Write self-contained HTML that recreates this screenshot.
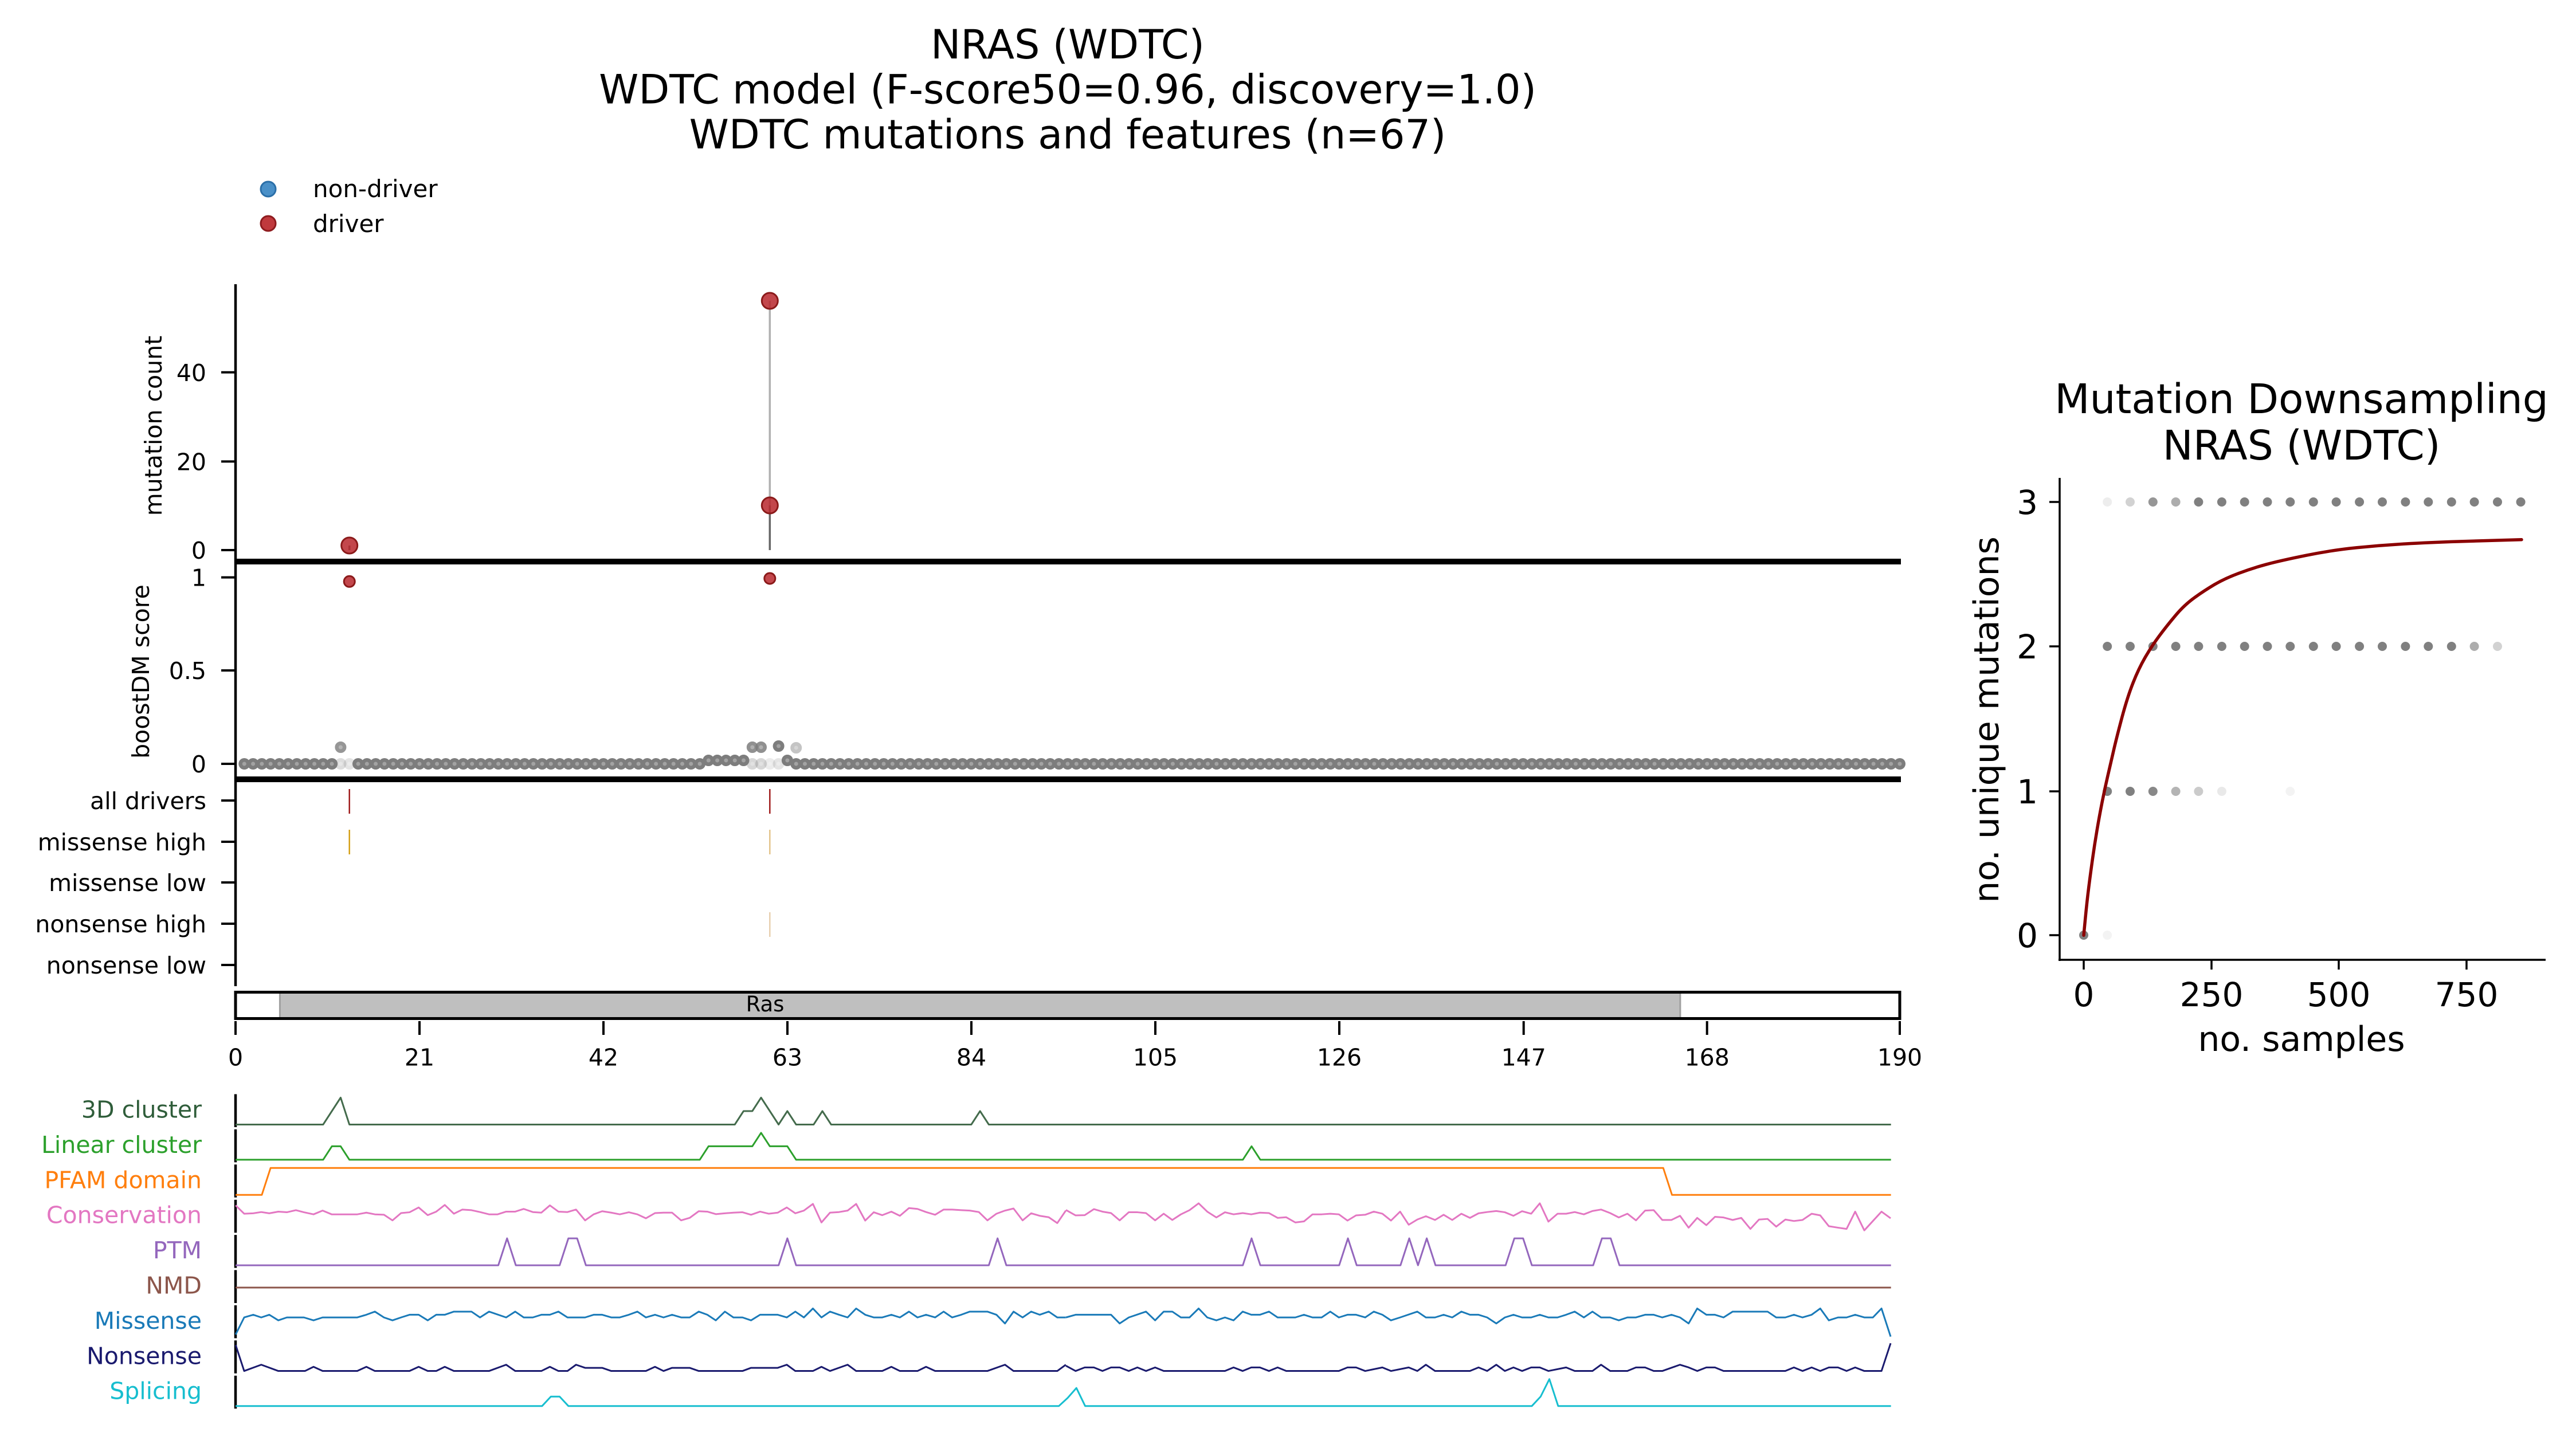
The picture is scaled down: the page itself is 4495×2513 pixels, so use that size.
<!DOCTYPE html>
<html><head><meta charset="utf-8"><style>
html,body{margin:0;padding:0;background:#fff;}
svg{display:block;}
text{font-family:"DejaVu Sans","Liberation Sans",sans-serif;fill:#000;}
</style></head><body>
<svg xmlns="http://www.w3.org/2000/svg" width="4495" height="2513" viewBox="0 0 4495 2513">
<rect width="4495" height="2513" fill="#fff"/>

<!-- Main title -->
<text x="1863" y="102" font-size="70" text-anchor="middle">NRAS (WDTC)</text>
<text x="1863" y="180.5" font-size="70" text-anchor="middle">WDTC model (F-score50=0.96, discovery=1.0)</text>
<text x="1863" y="259" font-size="70" text-anchor="middle">WDTC mutations and features (n=67)</text>

<!-- Legend -->
<circle cx="468" cy="330" r="13" fill="#4a90c8" stroke="#2b6fa8" stroke-width="3"/>
<text x="546" y="344" font-size="42">non-driver</text>
<circle cx="468" cy="390" r="13" fill="#c0393d" stroke="#8e1b1e" stroke-width="3"/>
<text x="546" y="405" font-size="42">driver</text>

<!-- Y labels -->
<text transform="translate(282,743) rotate(-90)" font-size="41" text-anchor="middle">mutation count</text>
<text transform="translate(260,1172) rotate(-90)" font-size="41" text-anchor="middle">boostDM score</text>

<!-- Spines -->
<line x1="411" y1="496" x2="411" y2="1721" stroke="#000" stroke-width="4.5"/>
<rect x="409" y="975" width="2908" height="10" fill="#000"/>
<rect x="409" y="1355" width="2908" height="10" fill="#000"/>

<!-- Ticks -->
<path d="M386 649.8H411M386 805.4H411M386 960H411M386 1007.6H411M386 1170H411M386 1333H411M386 1397H411M386 1469H411M386 1540H411M386 1612H411M386 1684H411" stroke="#000" stroke-width="4"/>
<path d="M411 1782V1806M732 1782V1806M1053 1782V1806M1374 1782V1806M1695 1782V1806M2016 1782V1806M2337 1782V1806M2658.7 1782V1806M2978.7 1782V1806M3315 1782V1806" stroke="#000" stroke-width="4"/>

<!-- Y tick labels -->
<g font-size="41" text-anchor="end">
<text x="360" y="665">40</text>
<text x="360" y="820.5">20</text>
<text x="360" y="975">0</text>
<text x="360" y="1022.6">1</text>
<text x="360" y="1185">0.5</text>
<text x="360" y="1348">0</text>
<text x="360" y="1412">all drivers</text>
<text x="360" y="1484">missense high</text>
<text x="360" y="1555">missense low</text>
<text x="360" y="1627">nonsense high</text>
<text x="360" y="1699">nonsense low</text>
</g>

<!-- X tick labels -->
<g font-size="41" text-anchor="middle">
<text x="411" y="1859.5">0</text>
<text x="732" y="1859.5">21</text>
<text x="1053" y="1859.5">42</text>
<text x="1374" y="1859.5">63</text>
<text x="1695" y="1859.5">84</text>
<text x="2016" y="1859.5">105</text>
<text x="2337" y="1859.5">126</text>
<text x="2658.7" y="1859.5">147</text>
<text x="2978.7" y="1859.5">168</text>
<text x="3315" y="1859.5">190</text>
</g>

<!-- Mutation count plot -->
<line x1="1343.3" y1="525" x2="1343.3" y2="882" stroke="#b0b0b0" stroke-width="3.5"/>
<line x1="1343.3" y1="882" x2="1343.3" y2="960" stroke="#666" stroke-width="3.5"/>
<line x1="609.7" y1="952" x2="609.7" y2="960" stroke="#666" stroke-width="3.5"/>
<circle cx="609.7" cy="952" r="14" fill="#b8272d" fill-opacity="0.85" stroke="#8b1a1a" stroke-width="3"/>
<circle cx="1343.3" cy="882" r="14" fill="#b8272d" fill-opacity="0.85" stroke="#8b1a1a" stroke-width="3"/>
<circle cx="1343.3" cy="525" r="14" fill="#b8272d" fill-opacity="0.85" stroke="#8b1a1a" stroke-width="3"/>

<!-- boostDM dots -->
<g fill="none" stroke-linecap="round">
<path d="M426.3 1333H580M625 1333H1222M1389.2 1333H3316" stroke="#7d7d7d" stroke-width="20" stroke-dasharray="0.01 15.274"/>
<path d="M426.3 1333H580M625 1333H1222M1389.2 1333H3316" stroke="#a3a3a3" stroke-width="7" stroke-dasharray="0.01 15.274"/>
</g>
<g fill="#a3a3a3" stroke="#7d7d7d" stroke-width="6.5">
<circle cx="594.4" cy="1333" r="6.75" opacity="0.25"/>
<circle cx="609.7" cy="1333" r="6.75" opacity="0.2"/>
<circle cx="594.4" cy="1304" r="6.75" opacity="0.8"/>
<circle cx="1236.3" cy="1327" r="6.75"/>
<circle cx="1251.6" cy="1327" r="6.75"/>
<circle cx="1266.9" cy="1327" r="6.75"/>
<circle cx="1282.2" cy="1327" r="6.75"/>
<circle cx="1297.5" cy="1327" r="6.75"/>
<circle cx="1312.8" cy="1333" r="6.75" opacity="0.3"/>
<circle cx="1328" cy="1333" r="6.75" opacity="0.3"/>
<circle cx="1343.3" cy="1333" r="6.75" opacity="0.15"/>
<circle cx="1358.6" cy="1333" r="6.75" opacity="0.2"/>
<circle cx="1312.8" cy="1304" r="6.75" opacity="0.85"/>
<circle cx="1328" cy="1304" r="6.75" opacity="0.85"/>
<circle cx="1358.6" cy="1302" r="6.75"/>
<circle cx="1373.9" cy="1327" r="6.75"/>
<circle cx="1389.2" cy="1305" r="6.75" opacity="0.45"/>
</g>
<circle cx="609.7" cy="1014.8" r="9.5" fill="#b8272d" fill-opacity="0.85" stroke="#8b1a1a" stroke-width="3"/>
<circle cx="1343.3" cy="1009.5" r="9.5" fill="#b8272d" fill-opacity="0.85" stroke="#8b1a1a" stroke-width="3"/>

<!-- Track marks -->
<line x1="609.7" y1="1377" x2="609.7" y2="1420" stroke="#a01c1c" stroke-width="2.5"/>
<line x1="1343.3" y1="1377" x2="1343.3" y2="1420" stroke="#a01c1c" stroke-width="2.5"/>
<line x1="609.7" y1="1448" x2="609.7" y2="1491" stroke="#d4a017" stroke-width="2.5"/>
<line x1="1343.3" y1="1448" x2="1343.3" y2="1491" stroke="#e3c48a" stroke-width="2.5"/>
<line x1="1343.3" y1="1592" x2="1343.3" y2="1635" stroke="#e8cfae" stroke-width="2.5"/>

<!-- Ras domain box -->
<rect x="487.4" y="1731.5" width="2445.5" height="46" fill="#bfbfbf"/>
<line x1="488.4" y1="1731.5" x2="488.4" y2="1777.5" stroke="#a0a0a0" stroke-width="3"/>
<line x1="2931.9" y1="1731.5" x2="2931.9" y2="1777.5" stroke="#a0a0a0" stroke-width="3"/>
<rect x="411" y="1731.5" width="2904" height="46" fill="none" stroke="#000" stroke-width="5"/>
<text x="1335" y="1765" font-size="37" text-anchor="middle">Ras</text>

<!-- Feature row spines -->
<path d="M411 1909.5V1967M411 1970.9V2028.4M411 2032.3V2089.8M411 2093.7V2151.2M411 2155.1V2212.6M411 2216.5V2274M411 2277.9V2335.4M411 2339.3V2396.8M411 2400.7V2458.2" stroke="#000" stroke-width="4.5"/>

<!-- Feature labels -->
<g font-size="41" text-anchor="end">
<text x="352" y="1950.5" style="fill:#2f5d3a">3D cluster</text>
<text x="352" y="2011.9" style="fill:#2ca02c">Linear cluster</text>
<text x="352" y="2073.3" style="fill:#ff7f0e">PFAM domain</text>
<text x="352" y="2134.7" style="fill:#e377c2">Conservation</text>
<text x="352" y="2196.1" style="fill:#9467bd">PTM</text>
<text x="352" y="2257.5" style="fill:#8c564b">NMD</text>
<text x="352" y="2318.9" style="fill:#1a7ab8">Missense</text>
<text x="352" y="2380.3" style="fill:#1a1a6e">Nonsense</text>
<text x="352" y="2441.7" style="fill:#17becf">Splicing</text>
</g>

<!-- Feature step series (index space) -->
<g fill="none" stroke-linejoin="round" stroke-width="3">
<g transform="translate(411,1962.5) scale(15.284,-47)">
<polyline vector-effect="non-scaling-stroke" stroke="#446b4c" stroke-width="3" points="0,0 10,0 12,1 13,0 57,0 58,0.5 59,0.5 60,1 62,0 63,0.5 64,0 66,0 67,0.5 68,0 84,0 85,0.5 86,0 189,0"/>
</g>
<g transform="translate(411,2023.9) scale(15.284,-47)">
<polyline vector-effect="non-scaling-stroke" stroke="#2ca02c" stroke-width="3" points="0,0 10,0 11,0.5 12,0.5 13,0 53,0 54,0.5 59,0.5 60,1 61,0.5 63,0.5 64,0 115,0 116,0.5 117,0 189,0"/>
</g>
<g transform="translate(411,2085.3) scale(15.284,-47)">
<polyline vector-effect="non-scaling-stroke" stroke="#ff7f0e" stroke-width="3" points="0,0 3,0 4,1 163,1 164,0 189,0"/>
</g>
<g transform="translate(411,2208.1) scale(15.284,-47)">
<polyline vector-effect="non-scaling-stroke" stroke="#9467bd" stroke-width="3" points="0,0 30,0 31,1 32,0 37,0 38,1 39,1 40,0 62,0 63,1 64,0 86,0 87,1 88,0 115,0 116,1 117,0 126,0 127,1 128,0 133,0 134,1 135,0 136,1 137,0 145,0 146,1 147,1 148,0 155,0 156,1 157,1 158,0 189,0"/>
</g>
<g transform="translate(411,2453.7) scale(15.284,-47)">
<polyline vector-effect="non-scaling-stroke" stroke="#17becf" stroke-width="3" points="0,0 35,0 36,0.35 37,0.35 38,0 94,0 95,0.3 96,0.67 97,0 148,0 149,0.35 150,1 151,0 189,0"/>
</g>
<line x1="411" y1="2247" x2="3299.7" y2="2247" stroke="#8c564b" stroke-width="3"/>
</g>

<!-- Noisy series left half -->
<g transform="translate(400,1900) scale(0.931,0.3635)" fill="none" stroke-linejoin="round">
<polyline vector-effect="non-scaling-stroke" stroke="#e377c2" stroke-width="3" points="12,560 28,600 45,598 60,592 75,598 92,590 108,593 125,583 140,593 158,603 175,585 192,603 208,603 225,603 240,603 257,595 273,603 290,605 306,632 322,597 338,593 355,570 372,607 388,590 404,558 421,600 437,580 454,583 470,592 487,603 503,603 519,590 536,590 552,577 569,592 585,595 601,560 617,590 634,592 650,580 667,632 683,603 699,588 716,595 732,603 749,593 765,603 781,622 798,597 814,595 830,595 847,632 863,620 880,588 896,590 912,602 929,598 945,595 962,593 978,605 995,590 1011,600 1028,595 1045,570 1061,598 1077,585 1094,553 1110,642 1126,595 1143,592 1159,585 1175,553 1192,633 1208,593 1224,607 1241,590 1257,610 1274,573 1290,577 1306,592 1323,605 1339,580 1355,580 1372,583 1388,585 1405,592 1421,632 1438,600 1454,585 1470,575 1487,632 1503,598 1519,610 1536,617 1552,645 1568,585"/>
<polyline vector-effect="non-scaling-stroke" stroke="#1a7ab8" stroke-width="3" points="12,1180 28,1098 45,1085 60,1098 75,1085 92,1112 108,1098 125,1098 140,1098 158,1112 175,1098 240,1098 257,1085 273,1070 290,1098 306,1112 322,1098 338,1085 355,1085 372,1112 388,1085 404,1085 421,1070 454,1070 470,1098 487,1070 519,1098 536,1070 552,1098 569,1098 585,1085 601,1085 617,1070 634,1098 667,1098 683,1085 699,1085 716,1098 732,1098 749,1085 765,1070 781,1098 798,1085 814,1098 830,1085 847,1098 863,1098 880,1070 896,1085 912,1112 929,1070 945,1098 962,1098 978,1112 995,1085 1028,1085 1045,1098 1061,1070 1077,1098 1094,1055 1110,1098 1126,1070 1143,1085 1159,1098 1175,1055 1192,1085 1208,1098 1224,1098 1241,1085 1257,1098 1274,1070 1290,1098 1306,1085 1323,1098 1339,1070 1355,1098 1372,1085 1388,1070 1421,1070 1438,1085 1454,1127 1470,1070 1487,1098 1503,1070 1519,1085 1536,1070 1552,1098 1568,1098"/>
<polyline vector-effect="non-scaling-stroke" stroke="#1a1a6e" stroke-width="3" points="12,1230 28,1355 60,1325 92,1355 142,1355 158,1335 175,1355 240,1355 257,1335 273,1355 338,1355 355,1335 372,1355 388,1355 404,1335 421,1355 487,1355 519,1325 536,1355 585,1355 601,1335 617,1355 634,1355 650,1325 667,1340 699,1340 716,1355 781,1355 798,1335 814,1355 830,1340 863,1340 880,1355 962,1355 978,1340 1028,1340 1045,1325 1061,1355 1094,1355 1110,1335 1126,1355 1159,1325 1175,1355 1224,1355 1241,1335 1257,1355 1290,1355 1306,1335 1323,1355 1421,1355 1454,1325 1470,1355 1552,1355 1568,1325"/>
</g>

<!-- Noisy series right half -->
<g transform="translate(1860,1900) scale(0.9375,0.3635)" fill="none" stroke-linejoin="round">
<polyline vector-effect="non-scaling-stroke" stroke="#e377c2" stroke-width="3" points="0,582 18,608 35,607 52,578 68,590 84,597 100,632 117,593 133,593 149,597 166,632 182,600 198,630 214,603 230,583 247,550 263,590 280,618 296,593 312,603 329,597 345,603 361,595 378,597 394,620 410,617 427,642 443,637 459,603 476,603 492,600 508,603 524,633 540,608 557,605 573,590 589,600 605,633 622,590 638,653 654,628 670,612 687,630 703,605 719,630 736,600 752,620 768,598 784,592 801,587 817,593 833,610 849,588 866,600 882,550 898,638 915,600 931,600 947,592 964,603 980,587 996,580 1013,597 1029,618 1045,600 1061,632 1078,585 1094,583 1110,630 1127,630 1143,610 1159,667 1175,620 1192,655 1208,615 1224,618 1241,630 1257,620 1274,673 1290,628 1306,625 1322,662 1339,628 1355,635 1371,630 1388,600 1404,608 1420,660 1437,667 1453,673 1469,590 1486,680 1502,635 1518,590 1535,622"/>
<polyline vector-effect="non-scaling-stroke" stroke="#1a7ab8" stroke-width="3" points="0,1098 18,1085 84,1085 100,1127 117,1098 149,1070 166,1112 182,1070 198,1070 214,1098 230,1098 247,1055 263,1098 280,1112 296,1098 312,1112 329,1070 345,1085 361,1085 378,1070 394,1098 427,1098 443,1085 459,1098 476,1098 492,1070 508,1098 524,1085 540,1085 557,1098 573,1070 589,1085 605,1112 622,1098 654,1070 670,1098 687,1098 703,1085 719,1098 736,1070 752,1085 768,1085 784,1098 801,1127 817,1098 833,1085 849,1098 866,1098 882,1085 898,1098 915,1098 931,1085 947,1070 964,1098 980,1070 996,1098 1013,1098 1029,1112 1045,1098 1061,1098 1078,1085 1094,1085 1110,1098 1127,1085 1143,1098 1159,1127 1175,1055 1192,1085 1208,1085 1224,1098 1241,1070 1306,1070 1322,1098 1339,1098 1355,1085 1371,1098 1388,1085 1404,1055 1420,1112 1437,1098 1453,1098 1469,1085 1486,1098 1502,1098 1518,1055 1535,1190"/>
<polyline vector-effect="non-scaling-stroke" stroke="#1a1a6e" stroke-width="3" points="0,1330 18,1355 35,1338 52,1338 68,1355 84,1338 100,1338 117,1355 133,1338 149,1355 166,1338 182,1355 296,1355 312,1338 329,1355 345,1338 361,1338 378,1355 394,1338 410,1355 508,1355 524,1338 540,1338 557,1355 589,1338 605,1355 638,1338 654,1355 670,1325 687,1355 752,1355 768,1338 784,1355 801,1325 817,1355 833,1338 849,1355 866,1338 882,1338 898,1355 931,1338 947,1355 980,1355 996,1325 1013,1355 1045,1355 1061,1338 1078,1338 1094,1355 1110,1355 1143,1325 1159,1338 1175,1355 1192,1338 1208,1338 1224,1355 1339,1355 1355,1338 1371,1355 1388,1338 1404,1355 1420,1338 1437,1338 1453,1355 1469,1338 1486,1355 1518,1355 1535,1222"/>
</g>

<!-- ===== Right plot: Mutation Downsampling ===== -->
<text x="4016" y="721" font-size="71" text-anchor="middle">Mutation Downsampling</text>
<text x="4016" y="802" font-size="71" text-anchor="middle">NRAS (WDTC)</text>

<line x1="3594" y1="834" x2="3594" y2="1677" stroke="#000" stroke-width="3.5"/>
<line x1="3592" y1="1675" x2="4442" y2="1675" stroke="#000" stroke-width="3.5"/>
<path d="M3576 876H3594M3576 1128H3594M3576 1381H3594M3576 1632H3594M3636 1675V1692M3859 1675V1692M4081 1675V1692M4304 1675V1692" stroke="#000" stroke-width="3.5"/>

<g font-size="58" text-anchor="end">
<text x="3556" y="897">3</text>
<text x="3556" y="1149">2</text>
<text x="3556" y="1402">1</text>
<text x="3556" y="1653">0</text>
</g>
<g font-size="58" text-anchor="middle">
<text x="3636" y="1756">0</text>
<text x="3859" y="1756">250</text>
<text x="4081" y="1756">500</text>
<text x="4304" y="1756">750</text>
</g>
<text x="4016" y="1834" font-size="60" text-anchor="middle">no. samples</text>
<text transform="translate(3487,1256) rotate(-90)" font-size="60" text-anchor="middle">no. unique mutations</text>

<g fill="#6a6a6a">
<!-- row 3 -->
<circle cx="3677.2" cy="876" r="8" opacity="0.12"/>
<circle cx="3717" cy="876" r="8" opacity="0.3"/>
<circle cx="3756.8" cy="876" r="8" opacity="0.7"/>
<circle cx="3796.6" cy="876" r="8" opacity="0.55"/>
<circle cx="3836.4" cy="876" r="8" opacity="0.85"/>
<circle cx="3876.9" cy="876" r="8" opacity="0.85"/>
<circle cx="3916.7" cy="876" r="8" opacity="0.85"/>
<circle cx="3956.5" cy="876" r="8" opacity="0.85"/>
<circle cx="3996.3" cy="876" r="8" opacity="0.85"/>
<circle cx="4036.8" cy="876" r="8" opacity="0.85"/>
<circle cx="4076.6" cy="876" r="8" opacity="0.85"/>
<circle cx="4117.1" cy="876" r="8" opacity="0.85"/>
<circle cx="4157" cy="876" r="8" opacity="0.85"/>
<circle cx="4197.4" cy="876" r="8" opacity="0.85"/>
<circle cx="4237.3" cy="876" r="8" opacity="0.85"/>
<circle cx="4277.8" cy="876" r="8" opacity="0.85"/>
<circle cx="4317.6" cy="876" r="8" opacity="0.85"/>
<circle cx="4358" cy="876" r="8" opacity="0.85"/>
<circle cx="4398.6" cy="876" r="8" opacity="0.85"/>
<!-- row 2 -->
<circle cx="3677.2" cy="1128" r="8" opacity="0.85"/>
<circle cx="3717" cy="1128" r="8" opacity="0.85"/>
<circle cx="3756.8" cy="1128" r="8" opacity="0.85"/>
<circle cx="3796.6" cy="1128" r="8" opacity="0.85"/>
<circle cx="3836.4" cy="1128" r="8" opacity="0.85"/>
<circle cx="3876.9" cy="1128" r="8" opacity="0.85"/>
<circle cx="3916.7" cy="1128" r="8" opacity="0.85"/>
<circle cx="3956.5" cy="1128" r="8" opacity="0.85"/>
<circle cx="3996.3" cy="1128" r="8" opacity="0.85"/>
<circle cx="4036.8" cy="1128" r="8" opacity="0.85"/>
<circle cx="4076.6" cy="1128" r="8" opacity="0.85"/>
<circle cx="4117.1" cy="1128" r="8" opacity="0.85"/>
<circle cx="4157" cy="1128" r="8" opacity="0.85"/>
<circle cx="4197.4" cy="1128" r="8" opacity="0.85"/>
<circle cx="4237.3" cy="1128" r="8" opacity="0.85"/>
<circle cx="4277.8" cy="1128" r="8" opacity="0.85"/>
<circle cx="4317.6" cy="1128" r="8" opacity="0.55"/>
<circle cx="4358" cy="1128" r="8" opacity="0.3"/>
<!-- row 1 -->
<circle cx="3677.2" cy="1381" r="8" opacity="0.85"/>
<circle cx="3717" cy="1381" r="8" opacity="0.85"/>
<circle cx="3756.8" cy="1381" r="8" opacity="0.8"/>
<circle cx="3796.6" cy="1381" r="8" opacity="0.5"/>
<circle cx="3836.4" cy="1381" r="8" opacity="0.35"/>
<circle cx="3876.9" cy="1381" r="8" opacity="0.15"/>
<circle cx="3996.3" cy="1381" r="8" opacity="0.08"/>
<!-- row 0 -->
<circle cx="3636" cy="1632" r="8" opacity="0.85"/>
<circle cx="3677.2" cy="1632" r="8" opacity="0.08"/>
</g>

<path fill="none" stroke="#8b0000" stroke-width="5.5" stroke-linejoin="round" stroke-linecap="round" d="M3636,1632.3 L3638.8,1602.9 Q3641.6,1573.5 3644.75,1548.6 Q3647.9,1523.7 3651.4,1498.85 Q3654.9,1474 3659.1,1449.1 Q3663.3,1424.2 3667.8,1401.4 Q3672.3,1378.6 3677.55,1355.8 Q3682.8,1333 3688.05,1310.2 Q3693.3,1287.4 3702.7,1252.2 Q3712.1,1217 3721.9,1192.1 Q3731.7,1167.2 3743.2,1147.3 Q3754.7,1127.4 3767.65,1110 Q3780.6,1092.6 3796.3,1073.95 Q3812,1055.3 3829.45,1042.85 Q3846.9,1030.4 3864.35,1020.05 Q3881.8,1009.7 3906.25,1000.55 Q3930.7,991.4 3955.15,984.8 Q3979.6,978.2 4025,969.05 Q4070.4,959.9 4112.3,955.75 Q4154.2,951.6 4196.1,949.15 Q4238,946.7 4290.35,945 Q4342.7,943.3 4400,941.7"/>

</svg>
</body></html>
